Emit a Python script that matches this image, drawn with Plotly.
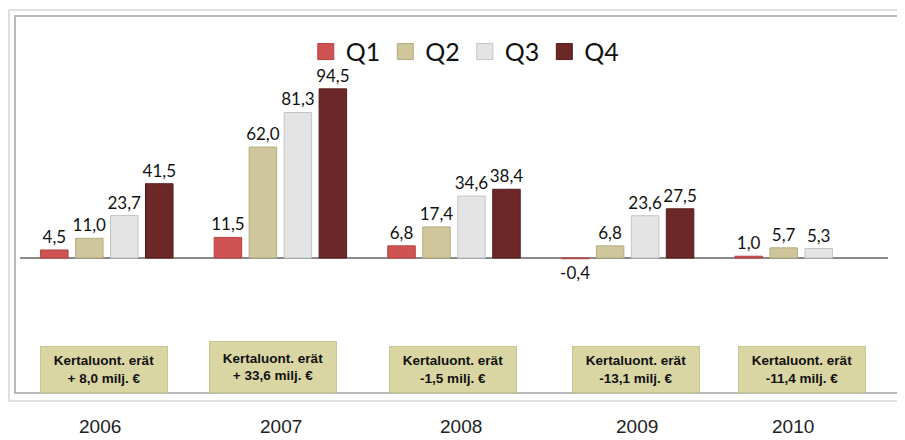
import plotly.graph_objects as go

years = ["2006", "2007", "2008", "2009", "2010"]
series_names = ["Q1", "Q2", "Q3", "Q4"]
q1 = [4.5, 11.5, 6.8, -0.4, 1.0]
q2 = [11.0, 62.0, 17.4, 6.8, 5.7]
q3 = [23.7, 81.3, 34.6, 23.6, 5.3]
q4 = [41.5, 94.5, 38.4, 27.5, None]
box_texts = [
    "Kertaluont. erät<br>+ 8,0 milj. €",
    "Kertaluont. erät<br>+ 33,6 milj. €",
    "Kertaluont. erät<br>-1,5 milj. €",
    "Kertaluont. erät<br>-13,1 milj. €",
    "Kertaluont. erät<br>-11,4 milj. €",
]

colors = ["#cf5352", "#cfc79b", "#e4e4e4", "#6c2727"]
edge = ["#b54241", "#b3ab80", "#c4c4c4", "#561c1c"]
values = [q1, q2, q3, q4]

fig = go.Figure()
for name, vals, c, e in zip(series_names, values, colors, edge):
    fig.add_trace(go.Bar(
        x=years, y=vals, name=name, showlegend=False,
        marker=dict(color=c, line=dict(color=e, width=1)),
        texttemplate="%{y:.1f}", textposition="outside",
        textfont=dict(family="Lato", size=17, color="#111111"),
        constraintext="none", cliponaxis=False,
    ))
for name, c, e in zip(series_names, colors, edge):
    fig.add_trace(go.Scatter(
        x=[None], y=[None], mode="markers", name=name,
        marker=dict(symbol="square", size=16, color=c, line=dict(color=e, width=1)),
    ))

annotations = []
box_shift = [-3, -7, -1, 8, 1]
box_h = [47, 52, 47, 47, 47]
for i, (t, s, h) in enumerate(zip(box_texts, box_shift, box_h)):
    annotations.append(dict(
        x=i, xref="x", y=0, yref="paper", yanchor="bottom", xshift=s,
        text="<b>" + t + "</b>", showarrow=False, align="center",
        width=124, height=h - 4, bgcolor="#d9d6a3", bordercolor="#c9c58f",
        borderwidth=1, font=dict(family="Liberation Sans, Arial", size=13.5, color="#111111"),
    ))
year_shift = [-7, 1, 7, 9, -8]
for i, (yr, s) in enumerate(zip(years, year_shift)):
    annotations.append(dict(
        x=i, xref="x", y=-0.09, yref="paper", yanchor="middle", xshift=s,
        text=yr, showarrow=False,
        font=dict(family="Liberation Sans, Arial", size=19, color="#222222"),
    ))

shapes = [
    dict(type="rect", xref="paper", yref="paper", x0=-0.0127, x1=1.1, y0=-0.0212, y1=1.0159,
         line=dict(color="#d6d6d6", width=1.5), layer="below"),
    dict(type="rect", xref="paper", yref="paper", x0=-0.0058, x1=1.1, y0=0, y1=1.0,
         line=dict(color="#a3a3a3", width=1.5), layer="below"),
]

fig.update_layout(
    width=897, height=432,
    margin=dict(l=12, r=17, t=8, b=47),
    paper_bgcolor="white", plot_bgcolor="white",
    separators=",.",
    barmode="group", bargap=0.194, bargroupgap=0.214,
    xaxis=dict(type="category", range=[-0.5, 4.5], showticklabels=False,
               showgrid=False, showline=False, ticks=""),
    yaxis=dict(range=[-75.4, 135.2], showticklabels=False, showgrid=False,
               zeroline=True, zerolinecolor="#8a8a8a", zerolinewidth=2),
    legend=dict(orientation="h", x=0.513, xanchor="center", y=0.905, yanchor="middle",
                font=dict(family="Lato", size=25, color="#111111"),
                bgcolor="rgba(0,0,0,0)", itemclick=False),
    annotations=annotations, shapes=shapes,
)

fig.write_html("out.html")
